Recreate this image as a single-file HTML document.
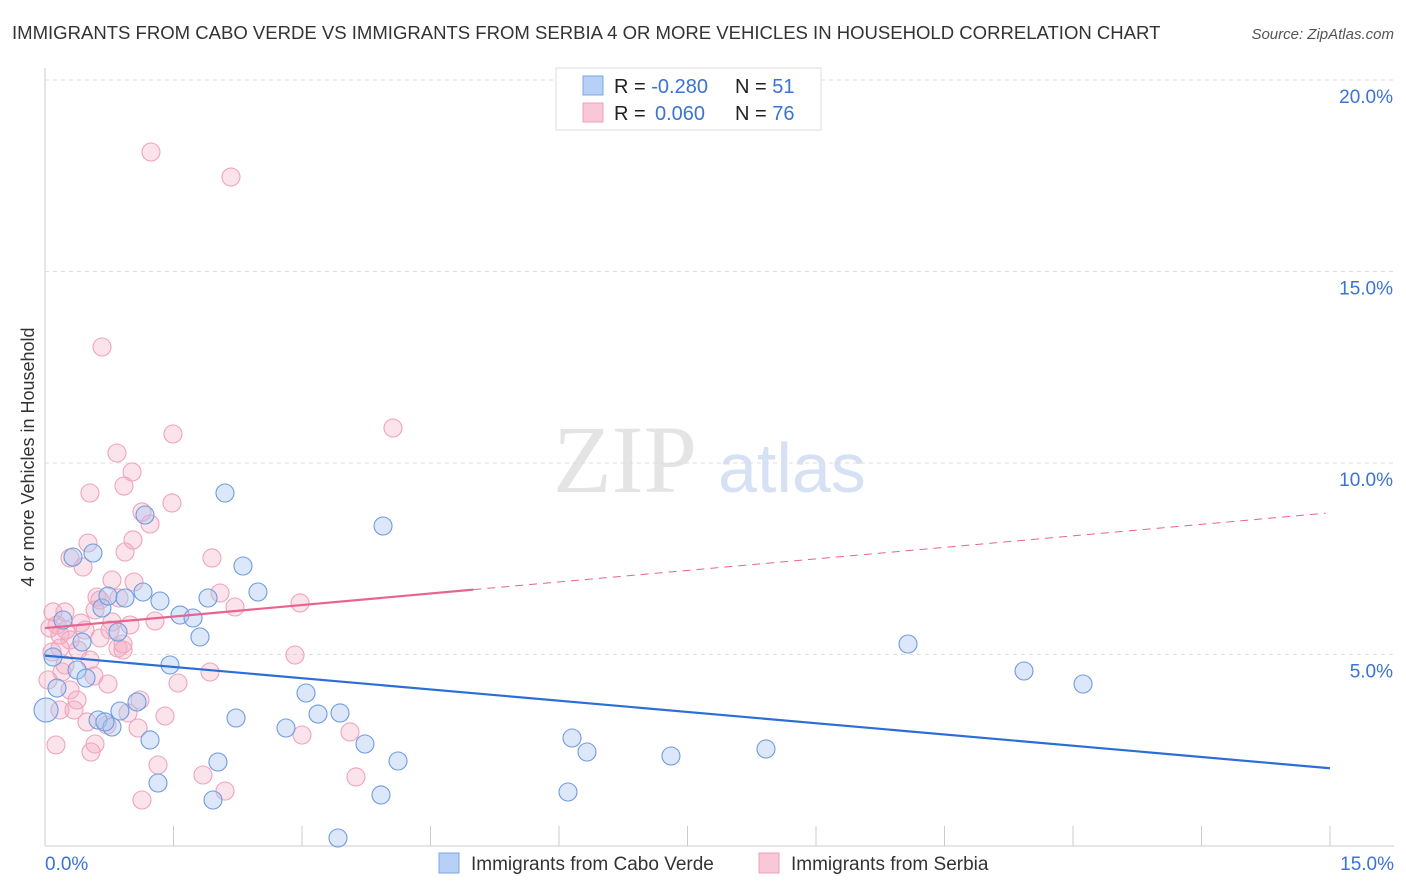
<!DOCTYPE html>
<html><head><meta charset="utf-8"><style>
body{margin:0;background:#fff;font-family:"Liberation Sans",sans-serif;}
svg{display:block}
</style></head><body>
<svg id="chart" width="1406" height="892" xmlns="http://www.w3.org/2000/svg">
<text x="12" y="39" font-size="18.55" fill="#333">IMMIGRANTS FROM CABO VERDE VS IMMIGRANTS FROM SERBIA 4 OR MORE VEHICLES IN HOUSEHOLD CORRELATION CHART</text>
<text x="1394" y="39" font-size="15" fill="#555" font-style="italic" text-anchor="end">Source: ZipAtlas.com</text>
<text x="553" y="492" font-size="96" fill="#e4e4e4" font-family="Liberation Serif,serif">ZIP</text>
<text x="718" y="492" font-size="70" fill="#d6e2f4">atlas</text>
<text transform="translate(34,457) rotate(-90)" font-size="18" fill="#333" text-anchor="middle">4 or more Vehicles in Household</text>
<g id="grid"></g><g id="pts"></g><g id="lines"></g>
<g>
<rect x="556" y="68" width="265" height="62" fill="#fff" stroke="#ddd"/>
<rect x="583" y="76" width="20" height="19" fill="#b7d0f5" stroke="#7ea5e6"/>
<rect x="583" y="103" width="20" height="19" fill="#f9c8d6" stroke="#eea0b8"/>
<text x="614" y="93" font-size="20" fill="#222">R = <tspan fill="#3b73d4">-0.280</tspan><tspan x="735">N = </tspan><tspan fill="#3b73d4">51</tspan></text>
<text x="614" y="120" font-size="20" fill="#222">R = <tspan x="655" fill="#3b73d4">0.060</tspan><tspan x="735">N = </tspan><tspan fill="#3b73d4">76</tspan></text>
</g>
<g>
<rect x="439" y="853" width="20" height="20" fill="#b7d0f5" stroke="#7ea5e6"/>
<text x="471" y="870" font-size="19" fill="#333">Immigrants from Cabo Verde</text>
<rect x="759" y="853" width="20" height="20" fill="#f9c8d6" stroke="#eea0b8"/>
<text x="791" y="870" font-size="19" fill="#333">Immigrants from Serbia</text>
</g>
</svg>
<script>
const yTicks=[5,10,15,20];
const yTickLabels=["5.0%","10.0%","15.0%","20.0%"];
const xTickLabels=["0.0%","15.0%"];
const bluePx=[[46,710],[53,657],[57,688],[63,620],[73,557],[77,670],[82,642],[86,678],[93,553],[98,720],[102,608],[108,596],[112,727],[118,632],[120,711],[125,598],[137,702],[143,592],[145,515],[150,740],[158,783],[160,601],[170,665],[180,615],[193,618],[200,637],[208,598],[213,800],[218,762],[225,493],[236,718],[243,566],[258,592],[286,728],[306,693],[318,714],[338,838],[340,713],[365,744],[381,795],[383,526],[398,761],[568,792],[572,738],[587,752],[671,756],[766,749],[908,644],[1024,671],[1083,684],[105,722]];
const pinkPx=[[151,152],[231,177],[102,347],[393,428],[173,434],[117,453],[90,493],[132,472],[124,486],[172,503],[142,512],[150,524],[133,540],[88,543],[125,552],[212,558],[70,558],[83,567],[134,582],[220,593],[300,603],[235,607],[97,597],[119,598],[65,612],[95,610],[155,621],[57,625],[112,622],[50,628],[81,623],[110,630],[60,635],[70,640],[100,638],[78,650],[118,648],[52,652],[65,665],[90,660],[210,672],[178,683],[62,672],[48,680],[295,655],[108,684],[70,690],[123,650],[140,700],[74,710],[128,713],[87,722],[165,716],[107,725],[138,728],[302,735],[350,732],[56,745],[95,744],[91,752],[158,765],[203,775],[225,791],[356,777],[142,800],[123,644],[60,648],[85,630],[53,612],[100,600],[130,625],[77,700],[60,710],[112,580],[66,630],[94,676]];
const blueX=bluePx.map(p=>+((p[0]-45)/1285*15).toFixed(3)), blueY=bluePx.map(p=>+((846-p[1])/191.5*5).toFixed(3));
const pinkX=pinkPx.map(p=>+((p[0]-45)/1285*15).toFixed(3)), pinkY=pinkPx.map(p=>+((846-p[1])/191.5*5).toFixed(3));
const blueTrend=[4.97,2.03];
const pinkTrend=[5.69,8.7];
const pinkSolidEnd=5.0;
const X=v=>45+v/15*1285, Y=v=>846-v/5*191.5;
const NS="http://www.w3.org/2000/svg";
function mk(t,a,p){const e=document.createElementNS(NS,t);for(const k in a)e.setAttribute(k,a[k]);p.appendChild(e);return e;}
const grid=document.getElementById('grid');
mk('line',{x1:45,y1:68,x2:45,y2:846,stroke:'#ccc'},grid);
mk('line',{x1:45,y1:846,x2:1394,y2:846,stroke:'#ccc'},grid);
yTicks.forEach((v,i)=>{
 const l=mk('line',{x1:45,y1:Y(v),x2:1394,y2:Y(v),stroke:'#ddd','stroke-dasharray':'4,4'},grid);
 
 
 const t=mk('text',{x:1393,y:Y(v)+23,'font-size':19,fill:'#3b73d4','text-anchor':'end'},grid);t.textContent=yTickLabels[i];
 
 
});
for(let i=0;i<=10;i++){const x=X(i*1.5);const l=mk('line',{x1:x,y1:826,x2:x,y2:846,stroke:'#ccc'},grid);
 
 }
let t=mk('text',{x:45,y:870,'font-size':19,fill:'#3b73d4'},grid);t.textContent=xTickLabels[0];


t=mk('text',{x:1394,y:870,'font-size':19,fill:'#3b73d4','text-anchor':'end'},grid);t.textContent=xTickLabels[1];


const pts=document.getElementById('pts');
pinkX.forEach((x,i)=>{const c=mk('circle',{cx:X(x),cy:Y(pinkY[i]),r:9,fill:'rgba(244,170,195,0.33)',stroke:'#f0a3bb','stroke-width':1.1},pts);
 
 });
blueX.forEach((x,i)=>{const c=mk('circle',{cx:X(x),cy:Y(blueY[i]),r:i==0?12:9,fill:'rgba(168,198,240,0.4)',stroke:'#6f9be0','stroke-width':1.1},pts);
 
 });
const lines=document.getElementById('lines');
let l=mk('line',{x1:X(0),y1:Y(blueTrend[0]),x2:X(15),y2:Y(blueTrend[1]),stroke:'#2b6fd6','stroke-width':2.2},lines);


const py=x=>pinkTrend[0]+(pinkTrend[1]-pinkTrend[0])*x/15;
l=mk('line',{x1:X(0),y1:Y(py(0)),x2:X(pinkSolidEnd),y2:Y(py(pinkSolidEnd)),stroke:'#e8648e','stroke-width':2.2},lines);


l=mk('line',{x1:X(pinkSolidEnd),y1:Y(py(pinkSolidEnd)),x2:X(14.95),y2:Y(py(14.95)),stroke:'#e8648e','stroke-width':1,'stroke-dasharray':'8,6'},lines);


</script>
</body></html>
